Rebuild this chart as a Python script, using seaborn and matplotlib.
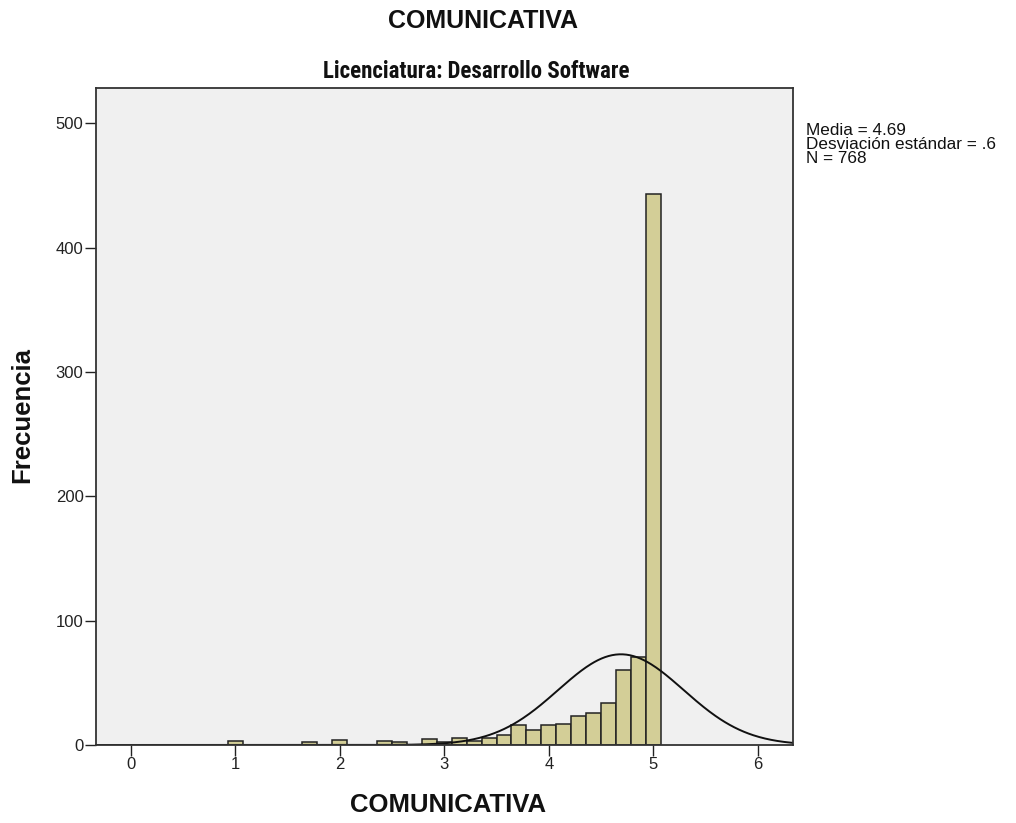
import numpy as np
import pandas as pd
import matplotlib
matplotlib.use("Agg")
import matplotlib.pyplot as plt
from matplotlib import font_manager
import seaborn as sns

# Data: bin centres (k/7) and frequencies
values = [1.0, 12/7, 2.0, 17/7, 18/7, 20/7, 3.0, 22/7, 23/7, 24/7, 25/7, 26/7,
          27/7, 4.0, 29/7, 30/7, 31/7, 32/7, 33/7, 34/7, 5.0]
counts = [3, 2, 4, 3, 2, 5, 2, 6, 3, 6, 8, 16,
          12, 16, 17, 23, 26, 34, 60, 71, 443]
stat_mean = 4.69
stat_sd = 0.6
stat_n = 768
bin_width = 1 / 7
x_ticks = [0, 1, 2, 3, 4, 5, 6]
y_ticks = [0, 100, 200, 300, 400, 500]

sns.set_theme(style="white")
plt.rcParams['font.family'] = ['Liberation Sans', 'DejaVu Sans']

# pick a condensed face for the subtitle if one is installed
installed = {f.name for f in font_manager.fontManager.ttflist}
narrow = None
for cand in ['Liberation Sans Narrow', 'DejaVu Sans Condensed', 'Roboto Condensed',
             'Open Sans Condensed', 'Arial Narrow']:
    if cand in installed:
        narrow = cand
        break

fig = plt.figure(figsize=(10.16, 8.23), dpi=100)
ax = fig.add_axes([0.0945, 0.0948, 0.686, 0.7983])
ax.set_facecolor("#F0F0F0")

df = pd.DataFrame({"value": values, "count": counts})
sns.histplot(data=df, x="value", weights="count", binwidth=bin_width,
             binrange=(-0.5 * bin_width, 35.5 * bin_width), ax=ax,
             color="#D3CE97", edgecolor="#222222", linewidth=1.1, alpha=1.0)

xs = np.linspace(-0.4, 6.4, 600)
ys = stat_n * bin_width / (stat_sd * np.sqrt(2 * np.pi)) * np.exp(-0.5 * ((xs - stat_mean) / stat_sd) ** 2)
sns.lineplot(x=xs, y=ys, ax=ax, color="#111111", linewidth=1.4)

ax.set_xlim(-0.333, 6.337)
ax.set_ylim(0, 528.5)
ax.set_xticks(x_ticks)
ax.set_yticks(y_ticks)
ax.set_xticklabels([str(t) for t in x_ticks])
ax.set_yticklabels([str(t) for t in y_ticks])
ax.tick_params(axis='both', which='both', direction='out', length=8, width=1,
               color='#222222', labelsize=12, labelcolor='#222222', pad=1,
               bottom=True, left=True)
for s in ax.spines.values():
    s.set_color('#333333')
    s.set_linewidth(1.3)
ax.set_xlabel("COMUNICATIVA", fontsize=18.5, fontweight='bold', color='#111111', va='center')
ax.set_ylabel("Frecuencia", fontsize=18.5, fontweight='bold', color='#111111', va='center')
ax.xaxis.set_label_coords(0.505, -0.091)
ax.yaxis.set_label_coords(-0.106, 0.502)

fig.text(0.475, 0.975, "COMUNICATIVA", ha='center', va='center', fontsize=18,
         fontweight='bold', color='#111111')
if narrow:
    fig.text(0.469, 0.913, "Licenciatura: Desarrollo Software", ha='center', va='center',
             fontsize=16.5, fontweight='bold', color='#111111',
             family=[narrow, 'Liberation Sans', 'DejaVu Sans'])
else:
    fig.text(0.469, 0.913, "Licenciatura: Desarrollo Software", ha='center', va='center',
             fontsize=13.8, fontweight='bold', color='#111111')
fig.text(0.793, 0.850, "Media = 4.69\nDesviación estándar = .6\nN = 768", ha='left', va='top',
         fontsize=12.3, color='#111111', linespacing=0.9)

fig.savefig("out.png", dpi=100, facecolor='white')
